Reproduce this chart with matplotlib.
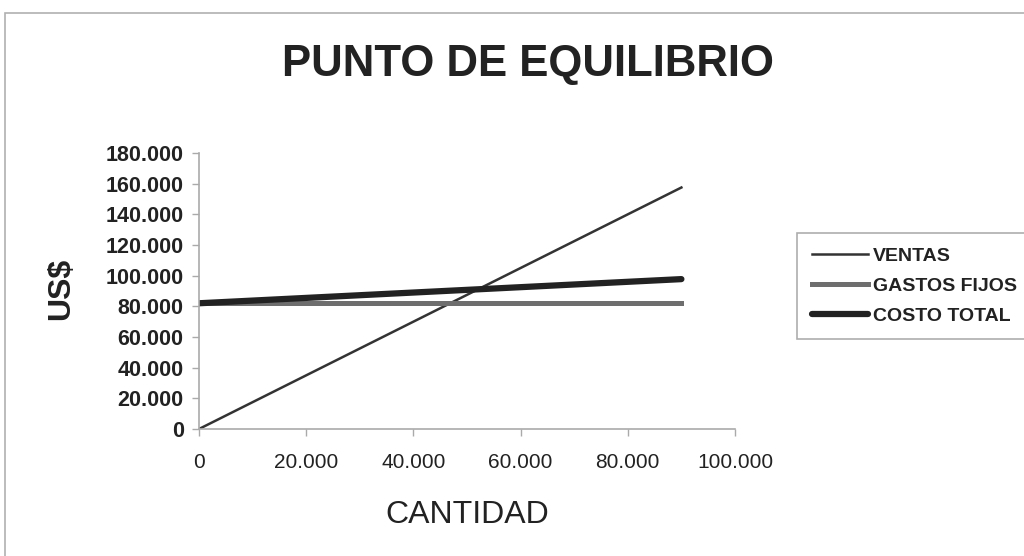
import matplotlib
matplotlib.use("Agg")
import matplotlib.pyplot as plt
from matplotlib.ticker import FuncFormatter
from matplotlib.patches import Rectangle

plt.rcParams['font.family'] = ['Liberation Sans', 'DejaVu Sans']

# Break-even data
cantidad = [0, 10000, 20000, 30000, 40000, 50000, 60000, 70000, 80000, 90000]
ventas = [0, 17500, 35000, 52500, 70000, 87500, 105000, 122500, 140000, 157500]
gastos_fijos = [82000, 82000, 82000, 82000, 82000, 82000, 82000, 82000, 82000, 82000]
costo_total = [82000, 83750, 85500, 87250, 89000, 90750, 92500, 94250, 96000, 97750]

x_ticks = [0, 20000, 40000, 60000, 80000, 100000]
y_ticks = [0, 20000, 40000, 60000, 80000, 100000, 120000, 140000, 160000, 180000]

fig = plt.figure(figsize=(10.24, 5.56), dpi=100)
fig.patch.set_facecolor('white')

# Outer chart frame
fig.patches.append(Rectangle((5 / 1024, -0.1), 1.2, (556 - 13) / 556 + 0.1,
                             transform=fig.transFigure, fill=False,
                             edgecolor='#b0b0b0', lw=1.2))

ax = fig.add_axes([199 / 1024, 1 - 429 / 556, (735 - 199) / 1024, (429 - 153) / 556])

l_v, = ax.plot(cantidad, ventas, color='#333333', lw=1.8, label='VENTAS')
l_g, = ax.plot(cantidad, gastos_fijos, color='#6e6e6e', lw=3.6, label='GASTOS FIJOS')
l_c, = ax.plot(cantidad, costo_total, color='#222222', lw=4.5, label='COSTO TOTAL',
               solid_capstyle='round')

ax.set_xlim(0, 100000)
ax.set_ylim(0, 180000)
ax.set_xticks(x_ticks)
ax.set_yticks(y_ticks)

fmt = FuncFormatter(lambda v, p: '0' if v == 0 else f'{int(v):,}'.replace(',', '.'))
ax.xaxis.set_major_formatter(fmt)
ax.yaxis.set_major_formatter(fmt)

for s in ['top', 'right']:
    ax.spines[s].set_visible(False)
for s in ['left', 'bottom']:
    ax.spines[s].set_color('#aaaaaa')
    ax.spines[s].set_linewidth(1.2)
ax.tick_params(axis='both', colors='#aaaaaa', length=5, width=1.0, direction='out')
ax.tick_params(axis='y', labelcolor='#222222', labelsize=15.5, pad=6)
ax.tick_params(axis='x', labelcolor='#222222', labelsize=15, pad=12)
for t in ax.get_yticklabels():
    t.set_fontweight('bold')

fig.text(528 / 1024, 1 - 65 / 556, 'PUNTO DE EQUILIBRIO', ha='center', va='center',
         fontsize=31.5, fontweight='bold', color='#222222')
fig.text(467 / 1024, 1 - 515 / 556, 'CANTIDAD', ha='center', va='center',
         fontsize=23, color='#222222')
fig.text(61 / 1024, 1 - 289 / 556, 'US$', ha='center', va='center', rotation=90,
         fontsize=23, fontweight='bold', color='#222222')

leg = fig.legend(handles=[l_v, l_g, l_c], loc='upper left',
                 bbox_to_anchor=(797 / 1024, 1 - 233 / 556),
                 borderaxespad=0,
                 frameon=True, fancybox=False, edgecolor='#999999',
                 prop={'weight': 'bold', 'size': 14}, handlelength=2.9,
                 handletextpad=0.25, labelspacing=0.62, borderpad=0.75)
leg.get_frame().set_linewidth(1.2)
for t in leg.get_texts():
    t.set_color('#222222')

fig.savefig('out.png', dpi=100, facecolor='white')
